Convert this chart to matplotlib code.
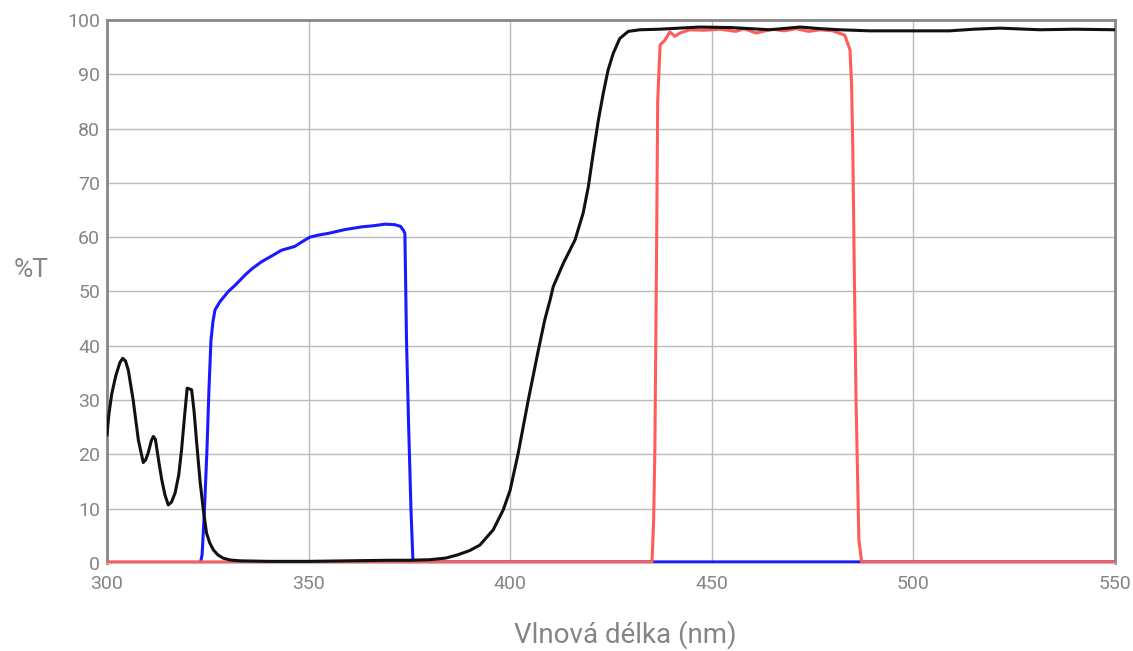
import numpy as np
import matplotlib.pyplot as plt

plt.rcParams['font.family'] = ['Roboto', 'DejaVu Sans']

# black filter curve
black_nm = [300, 300.5, 301.2, 302.2, 303.2, 303.9, 304.6, 305.3, 306.5, 307.8, 309,
            309.6, 310.2, 311, 311.5, 312, 312.3, 313, 313.6, 314.4, 315.2, 316,
            316.9, 317.8, 318.5, 319.3, 319.9, 321, 321.6, 322.2, 323.1, 323.9,
            324.7, 325.5, 326.4, 327.5, 328.8, 330.5, 333, 340, 350, 360, 370,
            375, 380, 384, 387, 390, 392.5, 395.8, 398.3, 400, 402, 404.5, 407,
            408.6, 409.9, 410.7, 413.2, 416.1, 418.1, 419.4, 420.6, 421.9, 423.1,
            424.3, 425.6, 427.2, 429.3, 432.2, 437, 442, 447, 455, 464.4, 471.9,
            477, 481.8, 489.2, 500, 509, 515, 521.5, 531.4, 540, 550]
black_t = [23.6, 27.5, 31.2, 34.5, 36.9, 37.7, 37.2, 35.5, 30, 22.6, 18.5,
           19.0, 20.2, 22.5, 23.3, 22.8, 21.4, 18.0, 15.3, 12.5, 10.7, 11.2,
           12.9, 16.2, 20.8, 27.5, 32.2, 31.9, 28.0, 22.6, 15.0, 9.8,
           5.5, 3.7, 2.4, 1.5, 0.9, 0.55, 0.4, 0.3, 0.3, 0.4, 0.5,
           0.5, 0.6, 0.9, 1.5, 2.3, 3.3, 6.1, 9.8, 13.4, 20.2, 30, 39.2,
           44.8, 48.4, 50.9, 55.2, 59.5, 64.4, 69.3, 75.4, 81.6, 86.5,
           90.8, 93.9, 96.6, 97.9, 98.2, 98.3, 98.5, 98.7, 98.6, 98.2, 98.7,
           98.4, 98.2, 98.0, 98.0, 98.0, 98.3, 98.5, 98.2, 98.3, 98.2]

# blue filter curve
blue_nm = [300, 323.2, 323.6, 324.2, 324.8, 325.3, 325.8, 326.3, 326.8, 328, 330.1,
           332, 334.2, 336, 338.4, 341, 343.3, 346.6, 348.5, 350.3, 352.5, 354.9,
           359, 363.2, 366, 369, 371.4, 372.8, 373.5, 373.9, 374.3, 374.8,
           375.4, 375.9, 550]
blue_t = [0.1, 0.1, 1.5, 10, 20.8, 32, 41, 44.5, 46.6, 48.1, 50,
          51.3, 53, 54.2, 55.5, 56.6, 57.6, 58.3, 59.2, 60, 60.4, 60.7,
          61.4, 61.9, 62.1, 62.4, 62.3, 62.0, 61.3, 60.7, 41, 26,
          10, 0.2, 0.2]

# red filter curve
red_nm = [300, 435.2, 435.6, 435.9, 436.3, 436.6, 437.2, 438.4, 439.6, 440.9, 442.1,
          444.6, 448, 452, 456, 458, 461, 465, 468, 471, 474, 477, 480, 483,
          484.3, 484.7, 485, 485.4, 485.8, 486.5, 487.2, 550]
red_t = [0.2, 0.2, 8, 20.8, 55, 85, 95.4, 96.3, 97.8, 97, 97.6,
         98.2, 98.1, 98.3, 97.9, 98.4, 97.6, 98.3, 98.0, 98.4, 97.9, 98.2, 98.0, 97.2,
         94.5, 88, 76, 52, 30, 4.2, 0.2, 0.2]

fig = plt.figure(figsize=(11.33, 6.51), dpi=100)
ax = fig.add_axes([0.0944, 0.1352, 0.8896, 0.8341])

ax.plot(blue_nm, blue_t, color='#1a1aff', lw=2.2, zorder=3, solid_joinstyle='round')
ax.plot(red_nm, red_t, color='#ff5c5c', lw=2.2, zorder=4, solid_joinstyle='round')
ax.plot(black_nm, black_t, color='#111111', lw=2.2, zorder=5, solid_joinstyle='round')

ax.set_xlim(300, 550)
ax.set_ylim(0, 100)
ax.set_xticks(np.arange(300, 551, 50))
ax.set_yticks(np.arange(0, 101, 10))
ax.grid(True, color='#bbbbbb', lw=1)
ax.tick_params(length=0, colors='#858585', labelsize=14)
ax.tick_params(axis='x', pad=9)
ax.tick_params(axis='y', pad=5)

for s in ['left', 'right', 'top']:
    ax.spines[s].set_color('#888888')
    ax.spines[s].set_linewidth(2)
ax.spines['bottom'].set_color('#bbbbbb')

fig.text(0.5516, 0.0246, 'Vlnová délka (nm)', fontsize=20, color='#858585',
         ha='center', va='center')
fig.text(0.0274, 0.585, '%T', fontsize=19, color='#858585', ha='center', va='center')

fig.savefig('out.png', dpi=100)
